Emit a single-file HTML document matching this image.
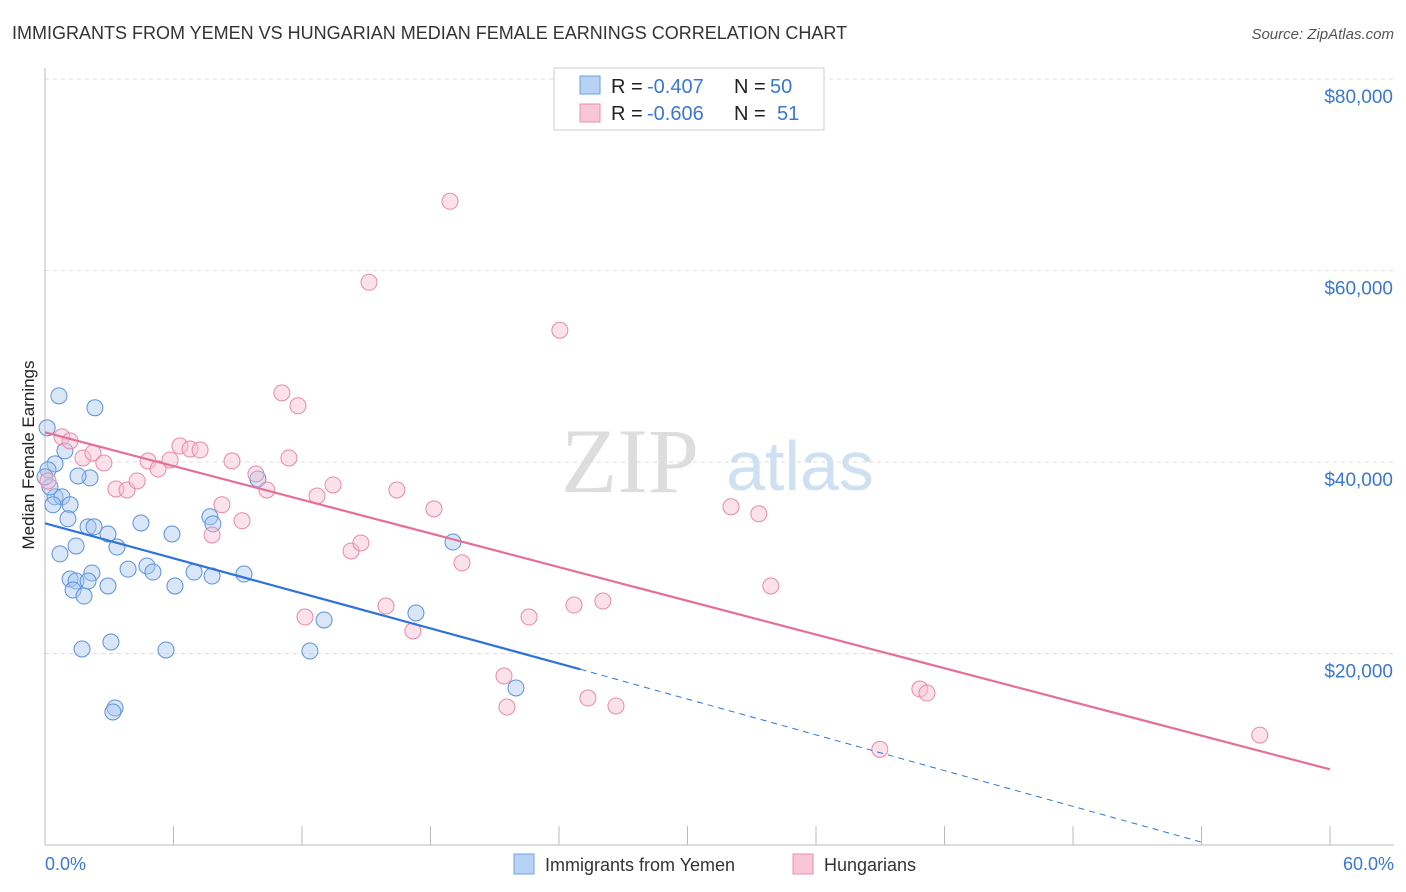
<!DOCTYPE html>
<html><head><meta charset="utf-8"><style>
body{margin:0;background:#fff;font-family:"Liberation Sans",sans-serif}
#c{position:absolute;left:0;top:0}
</style></head><body>
<svg id="c" width="1406" height="892">
<text x="12" y="39" font-size="18" fill="#333">IMMIGRANTS FROM YEMEN VS HUNGARIAN MEDIAN FEMALE EARNINGS CORRELATION CHART</text>
<text x="1394" y="39" font-size="15" fill="#555" text-anchor="end" font-style="italic">Source: ZipAtlas.com</text>
<text x="630" y="492" font-size="92" fill="#ddd" font-family="Liberation Serif" text-anchor="middle">ZIP</text>
<text x="800" y="490" font-size="70" fill="#cfe0f3" text-anchor="middle">atlas</text>
<g id="grid"></g><g id="marks"></g>
<text transform="translate(34,455) rotate(-90)" font-size="17" fill="#222" text-anchor="middle">Median Female Earnings</text>
<text x="45" y="870" font-size="18" fill="#3a78d0">0.0%</text>
<text x="1394" y="870" font-size="18" fill="#3a78d0" text-anchor="end">60.0%</text>
<g>
<rect x="554" y="68" width="270" height="62" fill="#fff" stroke="#ccc"/>
<rect x="580" y="76" width="20" height="18" fill="#b7d2f5" stroke="#6fa0e0"/>
<rect x="580" y="104" width="20" height="18" fill="#f9c6d6" stroke="#e890ad"/>
<text x="611" y="93" font-size="20" fill="#222">R =</text>
<text x="647" y="93" font-size="20" fill="#3a78d0">-0.407</text>
<text x="734" y="93" font-size="20" fill="#222">N =</text>
<text x="770" y="93" font-size="20" fill="#3a78d0">50</text>
<text x="611" y="120" font-size="20" fill="#222">R =</text>
<text x="647" y="120" font-size="20" fill="#3a78d0">-0.606</text>
<text x="734" y="120" font-size="20" fill="#222">N =</text>
<text x="777" y="120" font-size="20" fill="#3a78d0">51</text>
</g>
<g>
<rect x="514" y="854" width="20" height="20" fill="#b7d2f5" stroke="#6fa0e0"/>
<text x="545" y="871" font-size="18" fill="#333">Immigrants from Yemen</text>
<rect x="793" y="854" width="20" height="20" fill="#f9c6d6" stroke="#e890ad"/>
<text x="824" y="871" font-size="18" fill="#333">Hungarians</text>
</g>
</svg>
<script>
const yTicks=[20000,40000,60000,80000];
const yTickLabels=["$20,000","$40,000","$60,000","$80,000"];
const blueX=[0.1,0.65,2.33,0.47,0.14,0.93,2.1,1.54,0.47,0.79,1.17,0.37,1.07,2.01,2.29,2.94,4.48,3.36,1.45,0.7,5.93,7.7,7.84,9.94,19.05,3.88,4.76,5.04,6.96,7.8,9.29,1.17,1.45,2.19,2.01,1.31,1.82,2.94,6.07,13.03,17.32,1.73,3.08,5.65,12.37,21.99,3.27,3.17,0.23,0.0];
const blueY=[43570,46910,45660,39810,39180,41160,38340,38540,36360,36360,35530,35530,34070,33230,33230,32480,33630,31120,31230,30400,32480,34280,33540,38230,31640,28810,29140,28510,28510,28090,28300,27780,27570,28410,27570,26630,26000,27050,27050,23500,24230,20470,21200,20370,20260,16400,14310,13890,37390,38440];
const pinkX=[0.14,0.79,1.17,1.77,2.24,2.75,3.31,3.83,4.3,4.81,5.28,5.84,6.3,6.77,7.24,8.73,7.8,8.26,9.2,9.85,10.36,11.06,11.39,11.81,12.7,13.45,14.29,14.75,15.13,16.43,12.14,15.92,17.18,18.16,18.91,19.47,21.43,21.57,22.6,24.04,24.7,25.35,26.05,26.66,32.03,33.33,33.89,38.98,40.85,41.18,56.72];
const pinkY=[38020,42620,42200,40420,40940,39900,37180,37080,38020,40110,39280,40210,41670,41360,41250,40110,32380,35530,33860,38750,37080,47220,40420,45870,36450,37600,30710,31540,58770,37080,23810,24960,22350,35110,67230,29460,17650,14410,23810,53760,25060,15350,25480,14520,35320,34590,27050,9990,16290,15870,11480];
const blueLine=[[0,33600],[25,18350]], blueDash=[[25,18350],[54,300]];
const pinkLine=[[0,43100],[60,7900]];
const NS="http://www.w3.org/2000/svg";
const xs=v=>45+v*(1285/60), ys=v=>845-v*(191.5/20000);
const grid=document.getElementById('grid'), marks=document.getElementById('marks');
function mk(p,tag,a){const e=document.createElementNS(NS,tag);for(const k in a)e.setAttribute(k,a[k]);p.appendChild(e);return e;}
yTicks.forEach((t,i)=>{
 const l=mk(grid,'line',{x1:45,x2:1394,y1:ys(t),y2:ys(t),stroke:'#ddd','stroke-dasharray':'4,4'});
 
 
 const tx=mk(grid,'text',{x:1393,y:ys(t)+24,'font-size':19,fill:'#3a78d0','text-anchor':'end'});
 tx.textContent=yTickLabels[i];
 
 
});
mk(grid,'line',{x1:45,x2:45,y1:68,y2:845,stroke:'#bbb'});
mk(grid,'line',{x1:45,x2:1394,y1:845,y2:845,stroke:'#bbb'});
for(let i=0;i<=10;i++){const l=mk(grid,'line',{x1:xs(i*6),x2:xs(i*6),y1:826,y2:845,stroke:'#bbb'});
 
 }
function pts(X,Y,fill,stroke,name){X.forEach((x,i)=>{const c=mk(marks,'circle',{cx:xs(x),cy:ys(Y[i]),r:8,fill:fill,'fill-opacity':0.45,stroke:stroke,'stroke-width':1});
 
 });}
pts(blueX,blueY,'#a9c8f0','#5b92d8','yemen-point');
pts(pinkX,pinkY,'#f7bfd0','#e78aa9','hungarian-point');
function ln(p,col,dash,name){const l=mk(marks,'line',{x1:xs(p[0][0]),y1:ys(p[0][1]),x2:xs(p[1][0]),y2:ys(p[1][1]),stroke:col,'stroke-width':dash?1:2.2});
 if(dash)l.setAttribute('stroke-dasharray','6,5');
 
 }
ln(blueLine,'#2f74d6',false,'yemen-trendline');
ln(blueDash,'#2f74d6',true,'yemen-trendline-extension');
ln(pinkLine,'#e4709a',false,'hungarian-trendline');
</script>
</body></html>
